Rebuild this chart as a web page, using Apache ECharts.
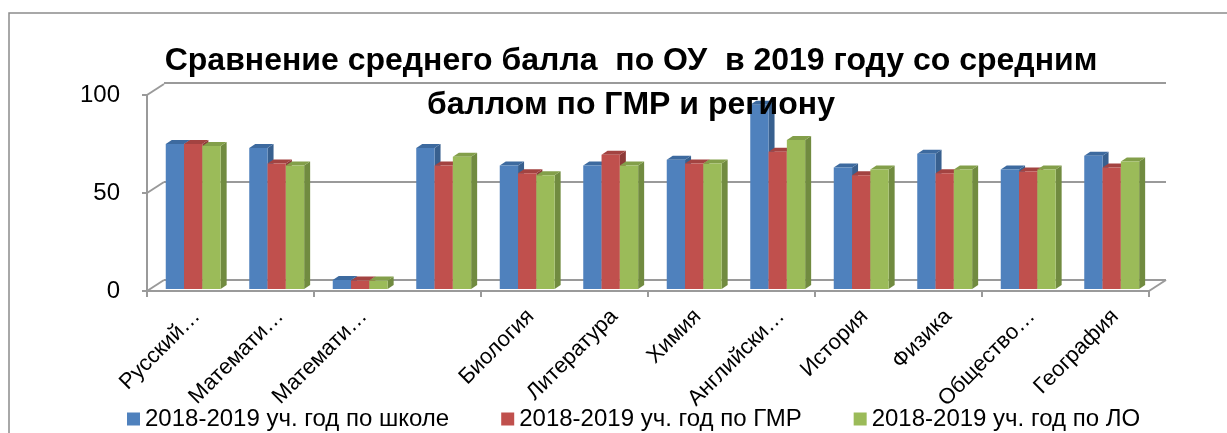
<!DOCTYPE html>
<html>
<head>
<meta charset="utf-8">
<script src="https://cdn.jsdelivr.net/npm/echarts@6/dist/echarts.min.js"></script>
<style>
  body { margin: 0; background: #fff; }
  #main { width: 1227px; height: 433px; }
</style>
</head>
<body>
<div id="main"></div>
<script>
// данные с диаграммы
var subjects = ['Русский…', 'Математи…', 'Математи…', '', 'Биология', 'Литература', 'Химия', 'Английски…', 'История', 'Физика', 'Обществo…', 'География'];
var seriesNames = ['2018-2019 уч. год по школе', '2018-2019 уч. год по ГМР', '2018-2019 уч. год по ЛО'];
var school = [74, 72, 4.6, 72, 63, 63, 66, 94, 62, 69, 61, 68];
var gmr = [74, 64, 4.3, 63, 59, 68.5, 64, 70, 58, 59, 60, 62];
var lo = [73, 63, 4.3, 67.5, 58, 63, 64, 76, 61, 61, 61, 65];
var yTicks = [0, 50, 100];

var FONT = '"Liberation Sans", Arial, sans-serif';
var colors = ['#4F81BD', '#C0504D', '#9BBB59'];
var sideColors = ['#38608f', '#8e3a38', '#718b40'];
var topColors = ['#3d6a9f', '#a34341', '#839f4a'];

var chart = echarts.init(document.getElementById('main'));

// 3D-столбик: передняя грань, верх, бок
function barRenderer(idx) {
  return function (params, api) {
    var base = api.coord([api.value(0), 0]);
    var top = api.coord([api.value(0), api.value(1)]);
    var bw = 18.3, dx = 6, dy = 4, lift = 2;
    var x0 = base[0] - 23 + idx * bw;
    var yb = base[1] - lift, yt = top[1] - lift;
    return {
      type: 'group',
      children: [
        { type: 'polygon', shape: { points: [[x0 + bw, yt], [x0 + bw + dx, yt - dy], [x0 + bw + dx, yb - dy], [x0 + bw, yb]] }, style: { fill: sideColors[idx] } },
        { type: 'polygon', shape: { points: [[x0, yt], [x0 + bw, yt], [x0 + bw + dx, yt - dy], [x0 + dx, yt - dy]] }, style: { fill: topColors[idx] } },
        { type: 'rect', shape: { x: x0, y: yt, width: bw, height: yb - yt }, style: { fill: colors[idx] } }
      ]
    };
  };
}

function toData(arr) {
  return arr.map(function (v, i) { return [i, v]; });
}

var allSeries = [school, gmr, lo].map(function (arr, i) {
  return {
    name: seriesNames[i],
    type: 'custom',
    xAxisIndex: 0,
    yAxisIndex: 0,
    renderItem: barRenderer(i),
    itemStyle: { color: colors[i] },
    encode: { x: 0, y: 1 },
    data: toData(arr),
    z: 5
  };
});

// боковая стенка и пол (диагонали)
allSeries.unshift({
  type: 'custom',
  xAxisIndex: 0,
  yAxisIndex: 0,
  silent: true,
  z: 1,
  renderItem: function (params, api) {
    var cs = params.coordSys;
    var p = api.coord([0, api.value(1)]);
    var lines = [
      { type: 'line', shape: { x1: cs.x, y1: p[1], x2: cs.x + 17, y2: p[1] - 11 }, style: { stroke: '#9a9a9a', lineWidth: 2 } }
    ];
    if (api.value(1) === 0) {
      lines.push({ type: 'line', shape: { x1: cs.x + cs.width, y1: p[1], x2: cs.x + cs.width + 17, y2: p[1] - 11 }, style: { stroke: '#9a9a9a', lineWidth: 2 } });
    }
    return { type: 'group', children: lines };
  },
  encode: { x: 0, y: 1 },
  data: yTicks.map(function (v) { return [0, v]; })
});

var option = {
  backgroundColor: '#fff',
  animation: false,
  title: {
    text: 'Сравнение среднего балла  по ОУ  в 2019 году со средним\nбаллом по ГМР и региону',
    left: 626,
    top: 34,
    textAlign: 'center',
    textStyle: { fontFamily: FONT, fontSize: 32, fontWeight: 'bold', color: '#000', lineHeight: 44 }
  },
  graphic: [
    { type: 'rect', shape: { x: 9, y: 13, width: 1400, height: 600 }, style: { fill: null, stroke: '#8c8c8c', lineWidth: 1.5 }, z: -1 }
  ],
  legend: {
    left: 122,
    top: 402,
    itemWidth: 13,
    itemHeight: 13,
    itemGap: 52,
    icon: 'rect',
    textStyle: { fontFamily: FONT, fontSize: 24, color: '#000' },
    data: seriesNames
  },
  grid: [
    { left: 147, right: 78, top: 95, bottom: 142 },   // передний план
    { left: 164, right: 61, top: 83, bottom: 153 },   // задняя стенка
    { left: 155, right: 70, top: 95, bottom: 142 }    // подписи категорий
  ],
  xAxis: [
    { type: 'category', gridIndex: 0, data: subjects, boundaryGap: true,
      axisLine: { lineStyle: { color: '#9a9a9a', width: 2 } },
      axisTick: { show: true, length: 6, lineStyle: { color: '#9a9a9a', width: 2 } },
      axisLabel: { show: false } },
    { type: 'category', gridIndex: 1, data: subjects,
      axisLine: { show: false }, axisTick: { show: false }, axisLabel: { show: false } },
    { type: 'category', gridIndex: 2, data: subjects,
      axisLine: { show: false }, axisTick: { show: false },
      axisLabel: { interval: 0, rotate: 45, margin: 22, fontFamily: FONT, fontSize: 22, color: '#000' } }
  ],
  yAxis: [
    { type: 'value', gridIndex: 0, min: 0, max: 100, interval: 50,
      axisLine: { show: true, lineStyle: { color: '#9a9a9a', width: 2 } },
      axisTick: { show: true, length: 5, lineStyle: { color: '#9a9a9a', width: 2 } },
      splitLine: { show: false },
      axisLabel: { margin: 27, fontFamily: FONT, fontSize: 24, color: '#000' } },
    { type: 'value', gridIndex: 1, min: 0, max: 100, interval: 50,
      axisLine: { show: false }, axisTick: { show: false }, axisLabel: { show: false },
      splitLine: { show: true, lineStyle: { color: '#9a9a9a', width: 2 } } },
    { type: 'value', gridIndex: 2, min: 0, max: 100, show: false }
  ],
  series: allSeries
};

chart.setOption(option);
</script>
</body>
</html>
